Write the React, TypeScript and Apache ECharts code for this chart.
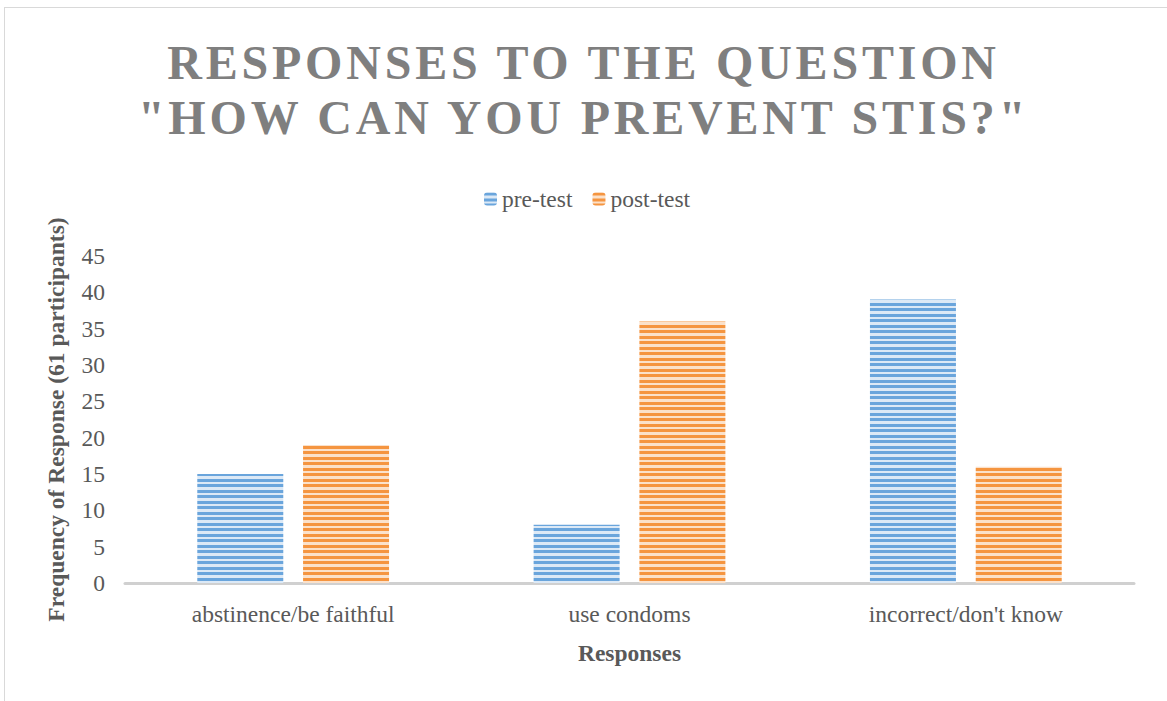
import React, { useEffect, useRef } from "react";
import * as echarts from "echarts";

const categories = ["abstinence/be faithful", "use condoms", "incorrect/don't know"];
const preTest = [15, 8, 39];
const postTest = [19, 36, 16];
const seriesNames = ["pre-test", "post-test"];
const titleLines = ["RESPONSES TO THE QUESTION", '"HOW CAN YOU PREVENT STIS?"'];
const yAxisName = "Frequency of Response (61 participants)";
const xAxisName = "Responses";

function makeStripe(dark: string, light: string) {
  const c = document.createElement("canvas");
  c.width = 8;
  c.height = 11;
  const ctx = c.getContext("2d")!;
  ctx.fillStyle = light;
  ctx.fillRect(0, 0, 8, 11);
  ctx.fillStyle = dark;
  ctx.fillRect(0, 0, 8, 3);
  ctx.fillRect(0, 6, 8, 3);
  return { image: c, repeat: "repeat" } as any;
}

export default function App() {
  const ref = useRef<HTMLDivElement>(null);
  useEffect(() => {
    document.body.style.margin = "0";
    const chart = echarts.init(ref.current!, null, { renderer: "svg" });
    const font = "'Liberation Serif', 'Times New Roman', serif";
    const fs = 23.5;
    const blue = makeStripe("#6aa5dc", "#dce9f6");
    const orange = makeStripe("#f59540", "#fbe1ca");
    chart.setOption({
      animation: false,
      backgroundColor: "#ffffff",
      textStyle: { fontFamily: font },
      title: {
        text: titleLines.join("\n"),
        left: "center",
        top: 30,
        textStyle: {
          fontFamily: font,
          fontSize: 48,
          fontWeight: "bold",
          color: "#7f7f7f",
          lineHeight: 55,
        },
      },
      legend: {
        top: 182,
        left: 479,
        itemWidth: 13,
        itemHeight: 13,
        itemGap: 20,
        textStyle: { fontFamily: font, fontSize: fs, color: "#595959" },
        data: seriesNames,
      },
      graphic: [
        {
          type: "line",
          shape: { x1: 4, y1: 7.5, x2: 1167, y2: 7.5 },
          style: { stroke: "#d9d9d9", lineWidth: 1 },
          silent: true,
        },
        {
          type: "line",
          shape: { x1: 4.5, y1: 7, x2: 4.5, y2: 701 },
          style: { stroke: "#d9d9d9", lineWidth: 1 },
          silent: true,
        },
      ],
      grid: { left: 125, right: 33, top: 256, bottom: 118 },
      xAxis: {
        type: "category",
        data: categories,
        name: xAxisName,
        nameLocation: "middle",
        nameGap: 58,
        nameTextStyle: { fontFamily: font, fontSize: fs, fontWeight: "bold", color: "#595959" },
        axisLine: { lineStyle: { color: "#d0d0d0", width: 3 } },
        axisTick: { show: false },
        axisLabel: { fontFamily: font, fontSize: fs, color: "#595959", margin: 19 },
      },
      yAxis: {
        type: "value",
        min: 0,
        max: 45,
        interval: 5,
        name: yAxisName,
        nameLocation: "middle",
        nameGap: 57,
        nameTextStyle: { fontFamily: font, fontSize: fs, fontWeight: "bold", color: "#595959" },
        axisLine: { show: false },
        axisTick: { show: false },
        splitLine: { show: false },
        axisLabel: { fontFamily: font, fontSize: fs, color: "#595959", margin: 20 },
      },
      series: [
        {
          name: seriesNames[0],
          type: "bar",
          data: preTest,
          barWidth: 86,
          barGap: "23%",
          itemStyle: { color: blue },
        },
        {
          name: seriesNames[1],
          type: "bar",
          data: postTest,
          barWidth: 86,
          barGap: "23%",
          itemStyle: { color: orange },
        },
      ],
    });
    const patch = () => {
      const el = ref.current;
      if (!el) return;
      el.querySelectorAll("text, tspan").forEach((t) => {
        const s = t.textContent || "";
        if (titleLines.some((l) => s.includes(l))) {
          (t as SVGElement).setAttribute("letter-spacing", "3.8");
        }
      });
    };
    patch();
    chart.on("finished", patch);
    const raf = requestAnimationFrame(patch);
    return () => {
      cancelAnimationFrame(raf);
      chart.dispose();
    };
  }, []);
  return <div ref={ref} style={{ width: 1167, height: 701 }} />;
}
